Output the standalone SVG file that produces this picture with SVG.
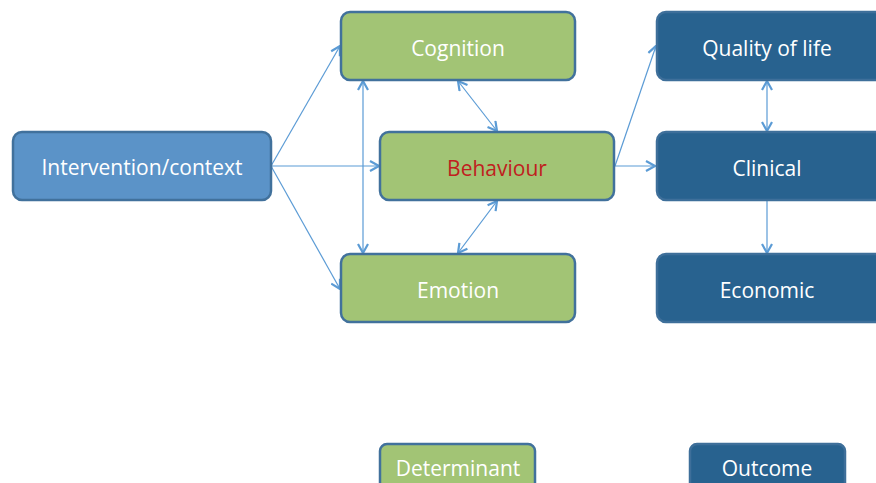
<svg xmlns="http://www.w3.org/2000/svg" width="876" height="483" viewBox="0 0 876 483">
<defs>
<style>
.n rect{stroke-width:2.5}
.blue rect{fill:#5B93C8;stroke:#41719C}
.green rect{fill:#A2C475;stroke:#41719C}
.dark rect{fill:#28628F;stroke:#3E6F9A}
text{font-family:"Open Sans","Liberation Sans",sans-serif;font-size:21px;fill:#FFFFFF;text-anchor:middle;dominant-baseline:central}
.red{fill:#C0201E}
#connectors line{stroke:#5B9BD5;stroke-width:1.2;fill:none}
</style>
<marker id="ah" viewBox="0 0 12 12" refX="11" refY="6" markerWidth="12" markerHeight="12" markerUnits="userSpaceOnUse" orient="auto-start-reverse">
<path d="M2,1 L11,6 L2,11" fill="none" stroke="#5B9BD5" stroke-width="2.2"/>
</marker>
</defs>
<g id="connectors">
<line x1="271" y1="166" x2="340" y2="46" marker-end="url(#ah)"/>
<line x1="271" y1="166" x2="379" y2="166" marker-end="url(#ah)"/>
<line x1="271" y1="166" x2="340" y2="289" marker-end="url(#ah)"/>
<line x1="363" y1="81" x2="363" y2="253" marker-start="url(#ah)" marker-end="url(#ah)"/>
<line x1="458" y1="81" x2="497" y2="131" marker-start="url(#ah)" marker-end="url(#ah)"/>
<line x1="497" y1="201" x2="458" y2="253" marker-start="url(#ah)" marker-end="url(#ah)"/>
<line x1="615" y1="166" x2="656" y2="46" marker-end="url(#ah)"/>
<line x1="615" y1="166" x2="655" y2="166" marker-end="url(#ah)"/>
<line x1="767" y1="81" x2="767" y2="131" marker-start="url(#ah)" marker-end="url(#ah)"/>
<line x1="767" y1="201" x2="767" y2="253" marker-end="url(#ah)"/>
</g>
<g id="intervention" class="n blue"><rect x="13" y="132" width="258" height="68" rx="9"/><text x="142" y="167">Intervention/context</text></g>
<g id="cognition" class="n green"><rect x="341" y="12" width="234" height="68" rx="9"/><text x="458" y="48">Cognition</text></g>
<g id="behaviour" class="n green"><rect x="380" y="132" width="234" height="68" rx="9"/><text x="497" y="168" class="red">Behaviour</text></g>
<g id="emotion" class="n green"><rect x="341" y="254" width="234" height="68" rx="9"/><text x="458" y="290">Emotion</text></g>
<g id="quality" class="n dark"><rect x="657" y="12" width="230" height="68" rx="9"/><text x="767" y="48">Quality of life</text></g>
<g id="clinical" class="n dark"><rect x="657" y="132" width="230" height="68" rx="9"/><text x="767" y="168">Clinical</text></g>
<g id="economic" class="n dark"><rect x="657" y="254" width="230" height="68" rx="9"/><text x="767" y="290">Economic</text></g>
<g id="legend-determinant" class="n green"><rect x="380" y="444" width="155" height="60" rx="7"/><text x="458" y="468">Determinant</text></g>
<g id="legend-outcome" class="n dark"><rect x="690" y="444" width="155" height="60" rx="7"/><text x="767" y="468">Outcome</text></g>
</svg>
